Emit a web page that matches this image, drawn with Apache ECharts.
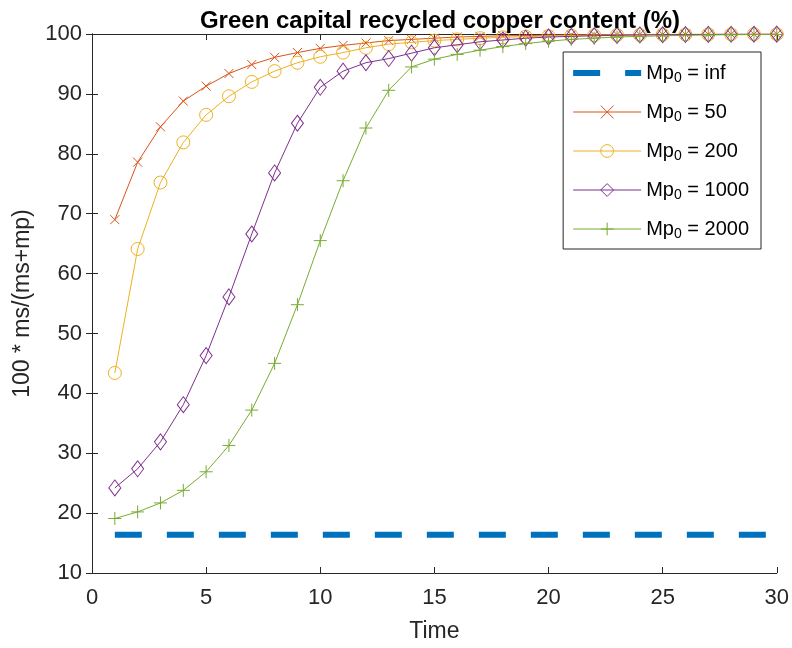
<!DOCTYPE html>
<html>
<head>
<meta charset="utf-8">
<script src="https://cdn.jsdelivr.net/npm/echarts@6/dist/echarts.min.js"></script>
<style>html,body{margin:0;padding:0;background:#fff;}#c{width:792px;height:648px;}</style>
</head>
<body>
<div id="c"></div>
<script>
const timeSteps = [1,2,3,4,5,6,7,8,9,10,11,12,13,14,15,16,17,18,19,20,21,22,23,24,25,26,27,28,29,30];
const legendLabels = ['inf','50','200','1000','2000'];
const mpInf = [16.4,16.4,16.4,16.4,16.4,16.4,16.4,16.4,16.4,16.4,16.4,16.4,16.4,16.4,16.4,16.4,16.4,16.4,16.4,16.4,16.4,16.4,16.4,16.4,16.4,16.4,16.4,16.4,16.4,16.4];
const mp50 = [69.0,78.6,84.5,88.8,91.3,93.4,94.9,96.1,96.9,97.6,98.1,98.5,98.9,99.1,99.3,99.5,99.6,99.7,99.75,99.8,99.85,99.88,99.9,99.92,99.94,99.95,99.96,99.97,99.97,99.98];
const mp200 = [43.4,64.1,75.2,81.9,86.5,89.6,92.0,93.8,95.2,96.2,96.9,97.7,98.3,98.6,98.9,99.1,99.3,99.45,99.55,99.65,99.72,99.78,99.83,99.86,99.89,99.91,99.93,99.95,99.96,99.97];
const mp1000 = [24.2,27.4,31.9,38.1,46.3,56.1,66.6,76.8,85.1,91.1,93.8,95.2,95.9,96.8,97.7,98.2,98.7,99.0,99.3,99.5,99.6,99.7,99.78,99.84,99.88,99.91,99.93,99.95,99.96,99.97];
const mp2000 = [19.1,20.2,21.7,23.8,26.9,31.3,37.2,45.0,54.8,65.5,75.5,84.3,90.6,94.5,95.8,96.6,97.3,97.9,98.4,98.8,99.1,99.3,99.5,99.6,99.7,99.78,99.84,99.88,99.91,99.93];
const xTicks = [0,5,10,15,20,25,30];
const yTicks = [10,20,30,40,50,60,70,80,90,100];

const colors = ['#0072BD','#D95319','#EDB120','#7E2F8E','#77AC30'];
const symbols = ['none','path://M0,0L10,10M10,0L0,10','circle','diamond','path://M5,0L5,10M0,5L10,5'];
const sizes = [0,9,13,[12,16],13];
const seriesValues = [mpInf, mp50, mp200, mp1000, mp2000];

const axisColor = '#262626';
const font = 'Liberation Sans, Arial, Helvetica, sans-serif';
const dashInf = [27,25];

const series = seriesValues.map((vals, i) => ({
  name: legendLabels[i],
  type: 'line',
  data: timeSteps.map((t, k) => [t, vals[k]]),
  symbol: symbols[i],
  symbolSize: sizes[i],
  showSymbol: i !== 0,
  lineStyle: i === 0 ? {color: colors[i], width: 6, type: dashInf, cap: 'butt'} : {color: colors[i], width: 1},
  itemStyle: {color: i === 0 ? colors[i] : 'none', borderColor: colors[i], borderWidth: 1},
  emphasis: {disabled: true},
  silent: true,
  z: 2 + i
}));

const legendData = legendLabels.map((n, i) => i === 0 ? {
  name: n,
  itemStyle: {color: 'rgba(0,0,0,0)', borderColor: 'rgba(0,0,0,0)', borderWidth: 0},
  lineStyle: {color: colors[0], width: 6, type: dashInf, cap: 'butt'}
} : {
  name: n,
  itemStyle: {color: 'none', borderColor: colors[i], borderWidth: 1},
  lineStyle: {color: colors[i], width: 1}
});

const chart = echarts.init(document.getElementById('c'), null, {renderer: 'canvas'});
chart.setOption({
  animation: false,
  backgroundColor: '#ffffff',
  title: {
    text: 'Green capital recycled copper content (%)',
    left: 435, textAlign: 'center', top: 4,
    textStyle: {fontFamily: font, fontWeight: 'bold', fontSize: 24, color: '#000'}
  },
  grid: {left: 92, right: 13, top: 34, bottom: 74, show: false},
  legend: {
    orient: 'vertical',
    right: 31, top: 52,
    itemWidth: 68, itemHeight: 16, itemGap: 15,
    padding: [9, 12, 8, 7],
    borderColor: axisColor, borderWidth: 1, backgroundColor: '#fff',
    data: legendData,
    formatter: name => '{a|Mp}{s|0}{a| = ' + name + '}',
    textStyle: {
      fontFamily: font, fontSize: 20, color: '#000',
      rich: {
        a: {fontFamily: font, fontSize: 20, color: '#000', lineHeight: 24},
        s: {fontFamily: font, fontSize: 14, color: '#000', lineHeight: 14, padding: [10, 0, 0, 0]}
      }
    }
  },
  xAxis: [{
    type: 'value', min: xTicks[0], max: xTicks[xTicks.length-1], interval: 5,
    name: 'Time', nameLocation: 'middle', nameGap: 47,
    nameTextStyle: {fontFamily: font, fontSize: 23, color: axisColor},
    axisLine: {show: true, lineStyle: {color: axisColor, width: 1}},
    axisTick: {show: true, inside: true, length: 6, lineStyle: {color: axisColor}},
    axisLabel: {fontFamily: font, fontSize: 22, color: axisColor, margin: 14},
    splitLine: {show: false}
  }, {
    type: 'value', position: 'top', min: xTicks[0], max: xTicks[xTicks.length-1], interval: 5,
    axisLine: {show: true, lineStyle: {color: axisColor, width: 1}},
    axisTick: {show: true, inside: true, length: 6, lineStyle: {color: axisColor}},
    axisLabel: {show: false}, splitLine: {show: false}
  }],
  yAxis: [{
    type: 'value', min: yTicks[0], max: yTicks[yTicks.length-1], interval: 10,
    name: '100 * ms/(ms+mp)', nameLocation: 'middle', nameGap: 51, nameRotate: 90,
    nameTextStyle: {fontFamily: font, fontSize: 23, color: axisColor},
    axisLine: {show: true, lineStyle: {color: axisColor, width: 1}},
    axisTick: {show: true, inside: true, length: 6, lineStyle: {color: axisColor}},
    axisLabel: {fontFamily: font, fontSize: 22, color: axisColor, margin: 10},
    splitLine: {show: false}
  }, {
    type: 'value', position: 'right', min: yTicks[0], max: yTicks[yTicks.length-1], interval: 10,
    axisLine: {show: true, lineStyle: {color: axisColor, width: 1}},
    axisTick: {show: true, inside: true, length: 6, lineStyle: {color: axisColor}},
    axisLabel: {show: false}, splitLine: {show: false}
  }],
  series: series
});
</script>
</body>
</html>
